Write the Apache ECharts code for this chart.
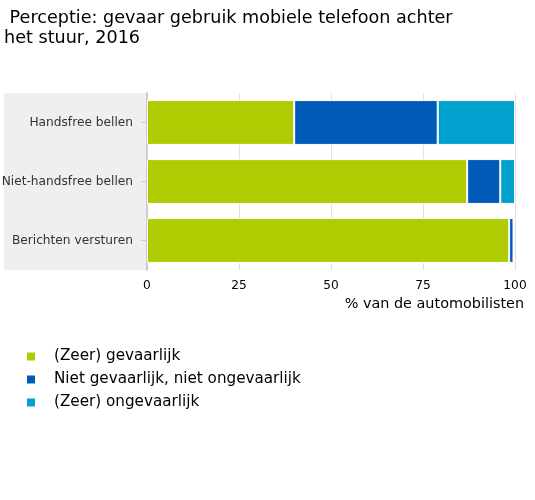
<!DOCTYPE html>
<html><head><meta charset="utf-8">
<script src="https://cdn.jsdelivr.net/npm/echarts@6/dist/echarts.min.js"></script>
<style>html,body{margin:0;padding:0;background:#fff}#c{width:535px;height:500px}</style>
</head><body><div id="c"></div>
<script>
var categories = ['Handsfree bellen', 'Niet-handsfree bellen', 'Berichten versturen'];
var seriesNames = ['(Zeer) gevaarlijk', 'Niet gevaarlijk, niet ongevaarlijk', '(Zeer) ongevaarlijk'];
var gevaarlijk = [40, 87, 98.4];
var neutraal = [39, 9, 1.2];
var ongevaarlijk = [21, 4, 0.4];
var colors = ['#b1cb03', '#005ab8', '#00a1cd'];
var xTicks = [0, 25, 50, 75, 100];

var chart = echarts.init(document.getElementById('c'), null, {renderer: 'canvas'});
var font = 'DejaVu Sans';
var data = [gevaarlijk, neutraal, ongevaarlijk];
chart.setOption({
  animation: false,
  textStyle: {fontFamily: font},
  title: {
    text: ' Perceptie: gevaar gebruik mobiele telefoon achter\nhet stuur, 2016',
    left: -1, top: 3,
    textStyle: {fontFamily: font, fontSize: 17.6, fontWeight: 'normal', color: '#000', lineHeight: 20}
  },
  graphic: [{type: 'rect', shape: {x: 4, y: 93, width: 143, height: 177}, style: {fill: '#efefef'}, z: -10}],
  legend: {
    orient: 'vertical', left: 20, top: 344,
    itemWidth: 10, itemHeight: 10, itemGap: 8, icon: 'rect',
    data: seriesNames,
    textStyle: {fontFamily: font, fontSize: 15.2, color: '#000', padding: [0, 0, 0, 13]}
  },
  grid: {left: 147, right: 20, top: 93, bottom: 230, containLabel: false, outerBoundsMode: 'none'},
  xAxis: {
    type: 'value', min: 0, max: 100, interval: 25,
    axisLine: {show: false}, axisTick: {show: false},
    axisLabel: {fontSize: 12.2, color: '#000', margin: 10, formatter: function(v){return xTicks.indexOf(v) >= 0 ? String(v) : '';}},
    splitLine: {show: true, lineStyle: {color: '#e0e0e0', width: 1}},
    name: '% van de automobilisten', nameLocation: 'end', nameGap: 9,
    nameTextStyle: {fontSize: 14.4, color: '#000', align: 'right', verticalAlign: 'top', padding: [27, 0, 0, 0]}
  },
  yAxis: {
    type: 'category', inverse: true, data: categories,
    axisLine: {show: true, lineStyle: {color: '#cccccc', width: 2}},
    axisTick: {show: true, alignWithLabel: true, length: 6, lineStyle: {color: '#cccccc'}},
    axisLabel: {fontSize: 12.2, color: '#333', margin: 14}
  },
  series: data.map(function(d, i){
    return {
      name: seriesNames[i], type: 'bar', stack: 'total', data: d,
      barCategoryGap: '24%',
      itemStyle: {color: colors[i], borderColor: '#fff', borderWidth: 1},
      emphasis: {disabled: true}
    };
  })
});
</script></body></html>
